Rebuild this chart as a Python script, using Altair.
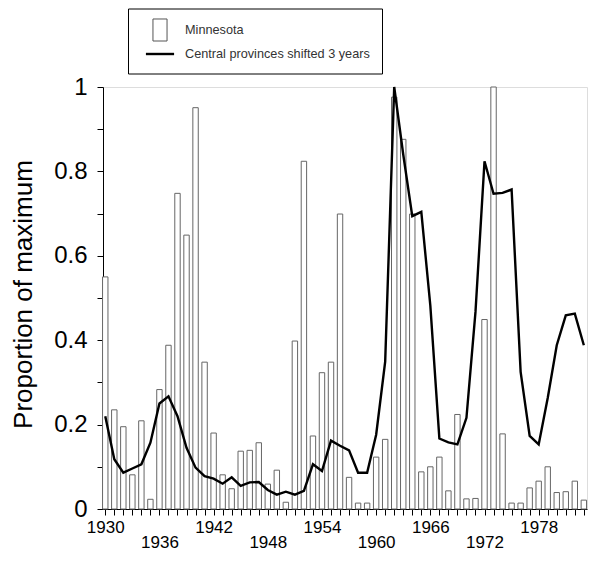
import altair as alt
import pandas as pd

years = list(range(1930, 1984))

minnesota = [
    0.55, 0.235, 0.195, 0.081, 0.209, 0.023, 0.283, 0.388, 0.748, 0.649,
    0.951, 0.348, 0.180, 0.081, 0.048, 0.137, 0.139, 0.157, 0.059, 0.092,
    0.016, 0.398, 0.824, 0.173, 0.323, 0.348, 0.699, 0.075, 0.014, 0.014,
    0.123, 0.165, 0.976, 0.876, 0.699, 0.088, 0.100, 0.123, 0.043, 0.224,
    0.024, 0.025, 0.449, 1.000, 0.178, 0.014, 0.014, 0.050, 0.066, 0.100,
    0.039, 0.041, 0.066, 0.021,
]

central = [
    0.220, 0.118, 0.086, 0.096, 0.106, 0.157, 0.250, 0.267, 0.220, 0.145,
    0.098, 0.078, 0.072, 0.060, 0.075, 0.055, 0.063, 0.064, 0.045, 0.034,
    0.041, 0.034, 0.043, 0.106, 0.090, 0.162, 0.150, 0.139, 0.086, 0.086,
    0.176, 0.349, 1.000, 0.840, 0.694, 0.704, 0.482, 0.167, 0.158, 0.153,
    0.216, 0.467, 0.824, 0.747, 0.749, 0.757, 0.325, 0.173, 0.153, 0.263,
    0.388, 0.459, 0.463, 0.388,
]

series_names = ["Minnesota", "Central provinces shifted 3 years"]
y_ticks = [i / 10 for i in range(11)]

df = pd.DataFrame({"year": years, "minnesota": minnesota, "central": central})
leg_df = pd.DataFrame({"series": series_names, "year": [1950, 1950], "v": [0.5, 0.5]})

FONT = "Liberation Sans"

x_scale = alt.Scale(domain=[1929.75, 1983.35], nice=False, zero=False, padding=0)
y_scale = alt.Scale(domain=[0, 1], nice=False, padding=0)

x_label_expr = (
    "(datum.value - 1930) % 12 == 0 ? datum.label : "
    "((datum.value - 1930) % 6 == 0 ? ['', datum.label] : '')"
)

x_axis = alt.Axis(
    values=years, format="d", labelExpr=x_label_expr, tickSize=6,
    labelPadding=4, labelFontSize=17, labelLineHeight=15.5,
    labelOverlap=False, labelFlush=False, labelBound=False, grid=False,
    domainColor="black", tickColor="black", labelColor="black",
    labelFont=FONT, title=None,
)

y_axis = alt.Axis(
    values=y_ticks,
    labelExpr="round(datum.value*10) % 2 == 0 ? format(datum.value, '~g') : ''",
    tickSize=6, labelPadding=10, labelFontSize=24, labelOverlap=False,
    labelFlush=False, grid=False, domainColor="black", tickColor="black",
    labelColor="black", labelFont=FONT,
    title="Proportion of maximum", titleFont=FONT, titleFontSize=26,
    titleFontWeight="normal", titleColor="black", titleAngle=270,
    titleX=-71.6, titleY=207, titleAlign="center", titleBaseline="alphabetic",
)

bars = (
    alt.Chart(df)
    .mark_bar(fill="white", stroke="#666666", strokeWidth=1, size=5.4, orient="vertical")
    .encode(
        x=alt.X("year:Q", scale=x_scale, axis=x_axis),
        y=alt.Y("minnesota:Q", scale=y_scale, axis=y_axis),
    )
)

line = (
    alt.Chart(df)
    .mark_line(color="black", strokeWidth=2.4)
    .encode(
        x=alt.X("year:Q", scale=x_scale, axis=x_axis),
        y=alt.Y("central:Q", scale=y_scale, axis=y_axis),
    )
)

rect_path = "M-0.8,-1.25L0.8,-1.25L0.8,1.25L-0.8,1.25Z"
line_path = "M-1.6,0L1.6,0"

leg = alt.Legend(
    title=None, orient="none", legendX=25, legendY=-78.5, padding=12,
    strokeColor="black", fillColor="white", labelFont=FONT,
    labelFontSize=12.7, labelColor="#333333", symbolSize=310,
    rowPadding=0, symbolOffset=9.5, labelOffset=14.5, labelLimit=400,
)

legend_layer = (
    alt.Chart(leg_df)
    .mark_point(filled=False, opacity=0, size=310)
    .encode(
        x=alt.X("year:Q", scale=x_scale, axis=x_axis),
        y=alt.Y("v:Q", scale=y_scale, axis=y_axis),
        shape=alt.Shape(
            "series:N",
            scale=alt.Scale(domain=series_names, range=[rect_path, line_path]),
            legend=leg,
        ),
        color=alt.Color(
            "series:N",
            scale=alt.Scale(domain=series_names, range=["#555555", "black"]),
            legend=leg,
        ),
        strokeWidth=alt.StrokeWidth(
            "series:O",
            scale=alt.Scale(domain=series_names, range=[1, 2.4]),
            legend=leg,
        ),
    )
)

chart = (
    alt.layer(bars, line, legend_layer)
    .properties(
        width=484, height=422,
        autosize=alt.AutoSizeParams(type="none"),
        padding={"left": 95, "top": 79, "right": 1, "bottom": 43},
    )
    .configure_view(stroke=None)
    .configure(font=FONT)
)

chart.save("out.html", embed_options={"renderer": "svg", "actions": False})
